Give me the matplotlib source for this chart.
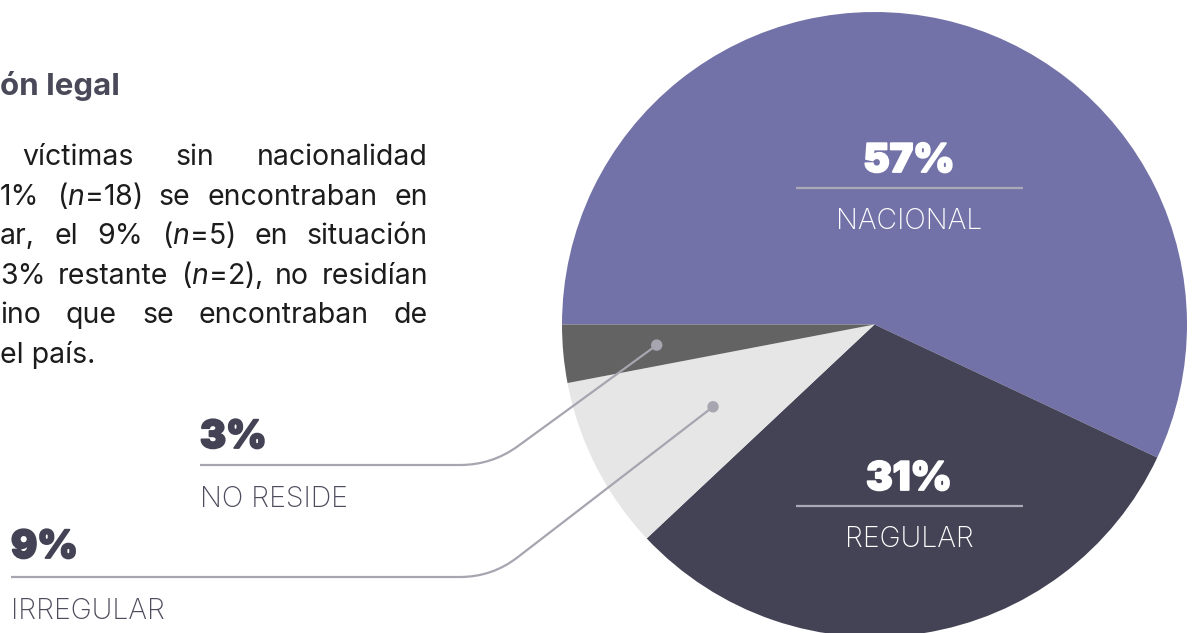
import matplotlib
matplotlib.use('Agg')
import matplotlib.pyplot as plt
import matplotlib.patheffects as pe
from matplotlib.path import Path
from matplotlib.patches import PathPatch, Circle
import numpy as np

# ---------------- data ----------------
categories = ['NACIONAL', 'REGULAR', 'IRREGULAR', 'NO RESIDE']
values = [57, 31, 9, 3]
slice_colors = ['#7372A8', '#444356', '#E6E6E6', '#636363']

heading = 'ón legal'
body_lines = [
    ['víctimas', 'sin', 'nacionalidad'],
    ['1%', '($\\mathit{n}$=18)', 'se', 'encontraban', 'en'],
    ['ar,', 'el', '9%', '($\\mathit{n}$=5)', 'en', 'situación'],
    ['3%', 'restante', '($\\mathit{n}$=2),', 'no', 'residían'],
    ['ino', 'que', 'se', 'encontraban', 'de'],
    ['el país.'],
]

# ---------------- style ----------------
plt.rcParams['font.family'] = ['Inter', 'DejaVu Sans']
plt.rcParams['mathtext.fontset'] = 'custom'
plt.rcParams['mathtext.rm'] = 'Inter'
plt.rcParams['mathtext.it'] = 'Inter:italic'

W, H = 1194, 633
fig = plt.figure(figsize=(W / 100, H / 100), dpi=100)
ax = fig.add_axes([0, 0, 1, 1])

cx, cy, R = 874.5, H - 324.5, 312.5
wedges, _ = ax.pie(values, colors=slice_colors, startangle=180, counterclock=False,
                   center=(cx, cy), radius=R, wedgeprops=dict(linewidth=0))
ax.set_xlim(0, W)
ax.set_ylim(0, H)
ax.set_aspect('auto')
ax.axis('off')

DARK = '#444356'
LABEL = '#4d4c5c'
LEADER = '#a6a5b0'
INNER_LINE = '#aaa9b8'

def heavy(color):
    return [pe.withStroke(linewidth=1.3, foreground=color)]

# ---------------- labels inside the pie ----------------
inside = {0: (909, 172, 229), 1: (909, 490, 547)}
for i, (x, yb, yl) in inside.items():
    ax.text(x, H - yb, f'{values[i]}%', ha='center', va='baseline', color='white',
            fontsize=28.5, fontweight='black', path_effects=heavy('white'))
    ax.plot([796, 1023], [H - yb - 16] * 2, color=INNER_LINE, lw=1.6, solid_capstyle='butt')
    ax.text(x, H - yl, categories[i], ha='center', va='baseline', color='white',
            fontsize=20.5, fontweight='light')

# ---------------- outside labels with leaders ----------------
def wedge_point(w, frac):
    th = np.deg2rad((w.theta1 + w.theta2) / 2)
    return np.array([cx + frac * R * np.cos(th), cy + frac * R * np.sin(th)])

outside = {3: (200, 448, 465, 507, 0.70), 2: (11, 558, 577, 619, 0.58)}
elbow_x, rad = 492, 32
for i, (x0, yb, yline, ylab, frac) in outside.items():
    ax.text(x0, H - yb, f'{values[i]}%', ha='left', va='baseline', color=DARK,
            fontsize=28, fontweight='black', path_effects=heavy(DARK))
    ax.text(x0, H - ylab, categories[i], ha='left', va='baseline', color=LABEL,
            fontsize=20.5, fontweight='light')
    dot = wedge_point(wedges[i], frac)
    yl = H - yline
    elbow = np.array([elbow_x, yl])
    u = (dot - elbow) / np.linalg.norm(dot - elbow)
    verts = [(x0, yl), (elbow_x - rad, yl), tuple(elbow), tuple(elbow + u * rad), tuple(dot)]
    codes = [Path.MOVETO, Path.LINETO, Path.CURVE3, Path.CURVE3, Path.LINETO]
    ax.add_patch(PathPatch(Path(verts, codes), fill=False, edgecolor=LEADER, lw=1.6))
    ax.add_patch(Circle(tuple(dot), 5, color=LEADER, zorder=5))

# ---------------- left text block ----------------
ax.text(0, H - 95, heading, ha='left', va='baseline', color='#4a4959',
        fontsize=22.5, fontweight='bold')

renderer = fig.canvas.get_renderer()
baselines = [165, 204.6, 244, 283.8, 323, 363]
lefts = [22, 0, 0, 0, 0, 0]
right = 428
for words, yb, xl in zip(body_lines, baselines, lefts):
    texts = [ax.text(0, H - yb, w, ha='left', va='baseline', color='#1c1c1c', fontsize=20.5)
             for w in words]
    if len(texts) == 1:
        texts[0].set_x(xl)
        continue
    widths = [t.get_window_extent(renderer).width for t in texts]
    gap = (right - xl - sum(widths)) / (len(words) - 1)
    x = xl
    for t, w in zip(texts, widths):
        t.set_x(x)
        x += w + gap

fig.savefig('out.png', dpi=100)
